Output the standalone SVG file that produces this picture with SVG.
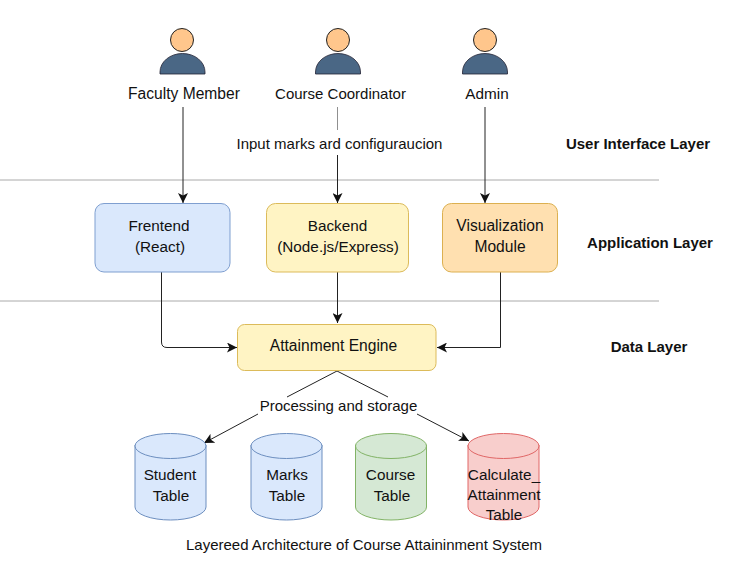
<svg xmlns="http://www.w3.org/2000/svg" width="741" height="587" viewBox="0 0 741 587">
<style>
text{font-family:"Liberation Sans",Arial,sans-serif;font-size:15.3px;fill:#111;text-anchor:middle}
.b{font-weight:bold;font-size:15px}
.w{font-size:15.6px}
.n{font-size:15px}
.c{fill:none;stroke:#222;stroke-width:1}
.sep{stroke:#aaa;stroke-width:1;fill:none}
.head{fill:#ffc68c;stroke:#222;stroke-width:1}
.body{fill:#4a6785;stroke:#223;stroke-width:.8}
</style>
<defs>
<marker id="a" markerUnits="userSpaceOnUse" markerWidth="11" markerHeight="10" refX="10" refY="5" orient="auto"><path d="M0 0L10 5L0 10L2.500 5Z" fill="#111"/></marker>
</defs>
<rect width="741" height="587" fill="#fff"/>
<g id="separators">
<path class="sep" d="M0 180H659M0 301H659"/>
</g>
<g id="connectors">
<path class="c" d="M183 107V203" marker-end="url(#a)"/>
<path class="c" stroke-opacity=".5" d="M337.500 107V130"/>
<path class="c" d="M337.500 155V203" marker-end="url(#a)"/>
<path class="c" d="M485 107V203" marker-end="url(#a)"/>
<path class="c" d="M161.500 272V342Q161.500 347.500 167 347.500H237" marker-end="url(#a)"/>
<path class="c" d="M337.500 272V323" marker-end="url(#a)"/>
<path class="c" d="M500.500 272V347.500H437" marker-end="url(#a)"/>
<path class="c" d="M337 371L287 397M258 414L204 443" marker-end="url(#a)"/>
<path class="c" d="M337 371L388 397M417 414L469 441" marker-end="url(#a)"/>
</g>
<g id="user-faculty"><circle class="head" cx="182" cy="40" r="11.500"/><path class="body" d="M160 74V72A22.500 18.500 0 0 1 205 72V74Z"/><text class="w" x="184" y="99">Faculty Member</text></g>
<g id="user-coordinator"><circle class="head" cx="338" cy="40" r="11.500"/><path class="body" d="M315.500 74V72A22.500 18.500 0 0 1 360.500 72V74Z"/><text class="n" x="340.500" y="99">Course Coordinator</text></g>
<g id="user-admin"><circle class="head" cx="485" cy="40" r="11.500"/><path class="body" d="M462.500 74V72A22.500 18.500 0 0 1 507.500 72V74Z"/><text x="487" y="99">Admin</text></g>
<g id="label-input"><text class="n" x="339.500" y="149">Input marks ard configuraucion</text></g>
<g id="layer-labels">
<text class="b" x="638" y="149">User Interface Layer</text>
<text class="b" x="650" y="248">Application Layer</text>
<text class="b" x="649" y="352">Data Layer</text>
</g>
<g id="frontend"><rect x="95" y="203.500" width="135" height="68.500" rx="9" fill="#dae8fc" stroke="#7f9fd0"/><text x="159" y="231">Frentend</text><text x="160" y="252">(React)</text></g>
<g id="backend"><rect x="266.500" y="203.500" width="142" height="68.500" rx="9" fill="#fff4c4" stroke="#dcbb5a"/><text x="337.500" y="231">Backend</text><text x="338" y="252">(Node.js/Express)</text></g>
<g id="visualization"><rect x="442.500" y="203.500" width="115" height="68.500" rx="9" fill="#ffe0b0" stroke="#dcb050"/><text class="w" x="500" y="231">Visualization</text><text class="w" x="500" y="252">Module</text></g>
<g id="engine"><rect x="237.500" y="324.500" width="198.500" height="46" rx="7" fill="#fff4c4" stroke="#dcbb5a"/><text class="w" x="333.500" y="351">Attainment Engine</text></g>
<g id="label-processing"><text class="n" x="338.500" y="410.500">Processing and storage</text></g>
<g id="student"><path d="M135 445V507A35.500 13 0 0 0 206 507V445Z" fill="#dae8fc" stroke="#6c8ebf"/><ellipse cx="170.500" cy="446" rx="35.500" ry="12.500" fill="#dae8fc" stroke="#6c8ebf"/><text x="170" y="480">Student</text><text x="171" y="501">Table</text></g>
<g id="marks"><path d="M251 445V507A35.500 13 0 0 0 322 507V445Z" fill="#dae8fc" stroke="#6c8ebf"/><ellipse cx="286.500" cy="446" rx="35.500" ry="12.500" fill="#dae8fc" stroke="#6c8ebf"/><text x="287" y="480">Marks</text><text x="287" y="501">Table</text></g>
<g id="course"><path d="M355.500 445V507A35.500 13 0 0 0 426.500 507V445Z" fill="#d5e8d4" stroke="#82b366"/><ellipse cx="391" cy="446" rx="35.500" ry="12.500" fill="#d5e8d4" stroke="#82b366"/><text x="390.500" y="480">Course</text><text x="392" y="501">Table</text></g>
<g id="calculate"><path d="M468 445V507A35.500 13 0 0 0 539 507V445Z" fill="#f8cecc" stroke="#e06666"/><ellipse cx="503.500" cy="446" rx="35.500" ry="12.500" fill="#f8cecc" stroke="#e06666"/><text x="504" y="480">Calculate_</text><text x="504" y="500">Attainment</text><text x="504" y="520">Table</text></g>
<g id="caption"><text class="n" x="364" y="550">Layereed Architecture of Course Attaininment System</text></g>
</svg>
